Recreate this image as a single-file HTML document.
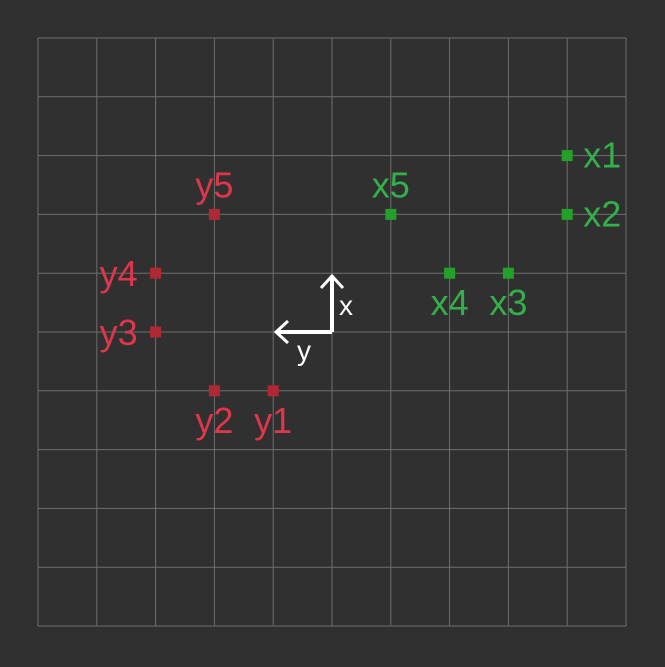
<!DOCTYPE html>
<html><head><style>
html,body{margin:0;padding:0;background:#303030;}
svg{display:block;font-family:"Liberation Sans",sans-serif;}
</style></head><body>
<svg id="chart" width="665" height="667" xmlns="http://www.w3.org/2000/svg">
<rect width="665" height="667" fill="#303030"/>
<g id="grid"></g>
<g id="axes">
<polyline points="332,332 332,276" fill="none" stroke="#fff" stroke-width="4"/>
<polyline points="321,288 332,276 343,288" fill="none" stroke="#fff" stroke-width="3"/>
<polyline points="332,332 276,332" fill="none" stroke="#fff" stroke-width="4"/>
<polyline points="288,321 276,332 288,343" fill="none" stroke="#fff" stroke-width="3"/>
<text x="339" y="315" fill="#fff" font-size="28">x</text>
<text x="297" y="360" fill="#fff" font-size="28">y</text>
</g>
<g id="pts"></g>
</svg>
<script>
const xLabels=["x1","x2","x3","x4","x5"];
const xCol=[4,4,3,2,1];
const xRow=[3,2,1,1,2];
const xPos=["right","right","below","below","above"];
const yLabels=["y1","y2","y3","y4","y5"];
const yCol=[-1,-2,-3,-3,-2];
const yRow=[-1,-1,0,1,2];
const yPos=["below","below","left","left","above"];
const NS="http://www.w3.org/2000/svg";
const cell=58.8, cx=332, cy=332;
const sx=c=>cx+c*cell, sy=r=>cy-r*cell;
const grid=document.getElementById('grid');
for(let i=-5;i<=5;i++){
  const v=document.createElementNS(NS,'line');
  v.setAttribute('x1',sx(i));v.setAttribute('x2',sx(i));v.setAttribute('y1',sy(5));v.setAttribute('y2',sy(-5));
  v.setAttribute('stroke','#6e6e6e');v.setAttribute('stroke-width','1');
  
  
  grid.appendChild(v);
  const h=document.createElementNS(NS,'line');
  h.setAttribute('y1',sy(i));h.setAttribute('y2',sy(i));h.setAttribute('x1',sx(-5));h.setAttribute('x2',sx(5));
  h.setAttribute('stroke','#6e6e6e');h.setAttribute('stroke-width','1');
  
  
  grid.appendChild(h);
}
const pts=document.getElementById('pts');
function draw(labels,cols,rows,pos,mark,txt,kind){
  labels.forEach((l,i)=>{
    const x=sx(cols[i]), y=sy(rows[i]);
    const r=document.createElementNS(NS,'rect');
    r.setAttribute('x',x-5.5);r.setAttribute('y',y-5.5);r.setAttribute('width',11);r.setAttribute('height',11);
    r.setAttribute('fill',mark);
    
    
    pts.appendChild(r);
    const t=document.createElementNS(NS,'text');
    t.setAttribute('fill',txt);t.setAttribute('font-size','36');
    let tx=x,ty=y,a='middle';
    if(pos[i]==='right'){tx=x+16;ty=y+12;a='start';}
    else if(pos[i]==='left'){tx=x-18;ty=y+13;a='end';}
    else if(pos[i]==='below'){ty=y+42;}
    else {ty=y-17;}
    t.setAttribute('x',tx);t.setAttribute('y',ty);t.setAttribute('text-anchor',a);
    t.textContent=l;
    
    
    pts.appendChild(t);
  });
}
draw(xLabels,xCol,xRow,xPos,'#22a02a','#34b04a','x');
draw(yLabels,yCol,yRow,yPos,'#b02833','#e0364c','y');
</script>
</body></html>
